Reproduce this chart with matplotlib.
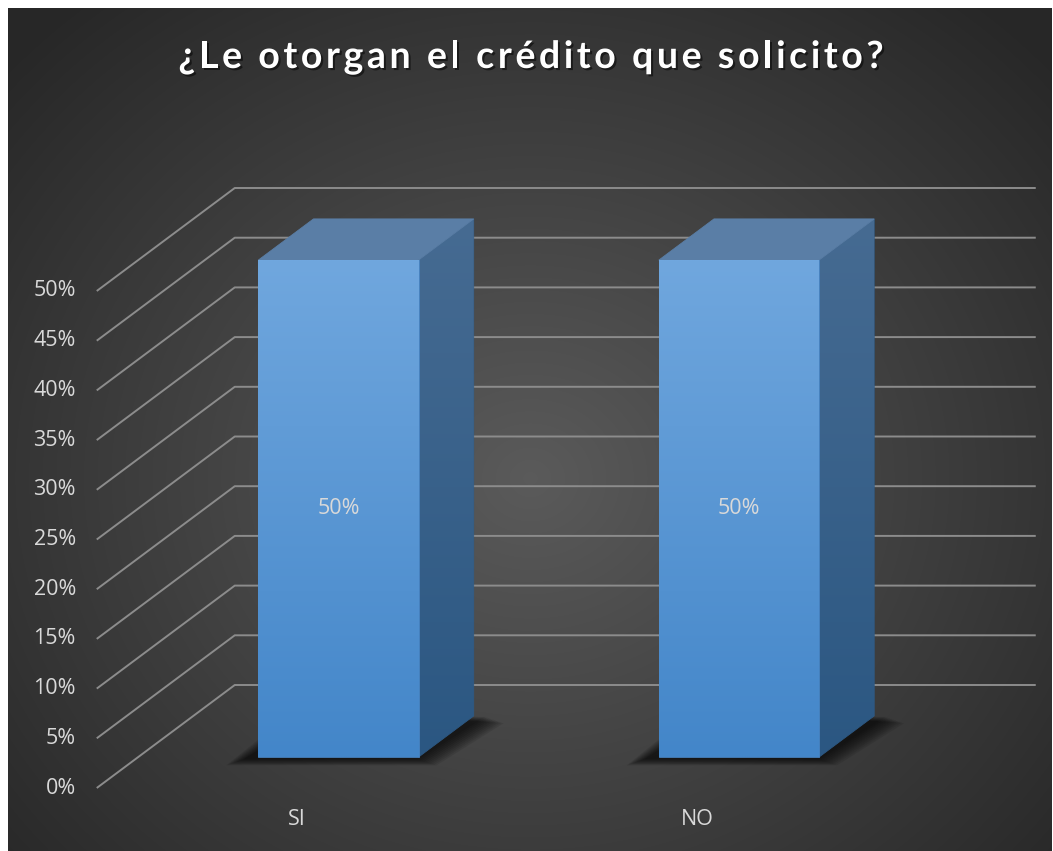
import numpy as np
import matplotlib
matplotlib.use("Agg")
from matplotlib import pyplot as plt
from matplotlib.patches import Polygon
import matplotlib.patheffects as pe

categories = ["SI", "NO"]
values = [50, 50]                      # percent
y_ticks = [0, 5, 10, 15, 20, 25, 30, 35, 40, 45, 50]
tick_labels = [f"{t}%" for t in y_ticks]
title = "¿Le otorgan el crédito que solicito?"

W, H = 1053, 851
PX_X = 400.5      # pixels per category
PX_Y = 9.94       # pixels per percent
X0, Y0 = 297, 788  # pixel of category 0 / 0% on the front plane
DX = 138 / PX_X   # depth offset (full depth) in category units
DY = 103 / PX_Y   # depth offset in percent units
FONT = ["Open Sans", "DejaVu Sans"]
TFONT = ["Lato", "DejaVu Sans"]
TXT = "#d9d9d9"


def proj(x, y, d):
    return (x + d * DX, y + d * DY)


def hexrgb(h):
    h = h.lstrip("#")
    return [int(h[i:i + 2], 16) / 255 for i in (0, 2, 4)]


fig = plt.figure(figsize=(W / 100, H / 100), dpi=100)
fig.patch.set_facecolor("white")

# background: radial gradient
bg = fig.add_axes([8 / W, 0, 1 - 9 / W, 1 - 8 / H])
bg.set_axis_off()
yy, xx = np.mgrid[0:843, 0:1044]
r = np.hypot((xx - 522) / 700, (yy - 470) / 620)
r = np.clip(r, 0, 1)
c = 0.355 - 0.20 * r
bg.imshow(np.dstack([c, c, c]), aspect="auto", interpolation="bilinear")

ax = fig.add_axes([0, 0, 1, 1])
ax.patch.set_alpha(0)
ax.set_axis_off()
ax.set_xlim(-X0 / PX_X, (W - X0) / PX_X)
ax.set_ylim((Y0 - H) / PX_Y, Y0 / PX_Y)

n = len(categories)
x_left, x_right = -0.5, n - 0.5

# gridlines on side wall and back wall
for t, lab in zip(y_ticks, tick_labels):
    p0 = proj(x_left, t, 0)
    p1 = proj(x_left, t, 1)
    p2 = proj(x_right, t, 1)
    ax.plot([p0[0], p1[0], p2[0]], [p0[1], p1[1], p2[1]], color="#8c8c8c",
            lw=1.4, zorder=1, solid_capstyle="butt")
    ax.annotate(lab, xy=p0, xytext=(-15, 0), textcoords="offset points",
                ha="right", va="center", color=TXT, fontsize=15.5, family=FONT)

hw = 0.2
d0, d1 = 0.3, 0.7


def grad_fill(poly, top_col, bot_col, ymin, ymax, z):
    ax.add_patch(poly)
    g = np.linspace(0, 1, 256)[:, None, None]
    img = np.array(top_col)[None, None, :] * (1 - g) + np.array(bot_col)[None, None, :] * g
    xs = poly.get_xy()[:, 0]
    im = ax.imshow(img, extent=(xs.min(), xs.max(), ymin, ymax), aspect="auto",
                   origin="upper", zorder=z, interpolation="bilinear")
    im.set_clip_path(poly)


for i, (cat, v) in enumerate(zip(categories, values)):
    fl = proj(i - hw, 0, d0)
    fr = proj(i + hw, 0, d0)
    br = proj(i + hw, 0, d1)
    bl = proj(i - hw, 0, d1)
    # soft shadow around the footprint
    for k in range(10):
        e = 0.005 * k
        ey = 0.07 * k
        sh = Polygon([(fl[0] - 0.035 - e, fl[1] - 0.2 - ey), (fr[0] + e, fr[1] - 0.2 - ey),
                      (br[0] + 0.03 + e, br[1] - 0.1 - ey), (bl[0] - e, bl[1] + ey)],
                     closed=True, facecolor="black", edgecolor="none", alpha=0.09, zorder=2)
        ax.add_patch(sh)
    ftl = proj(i - hw, v, d0)
    ftr = proj(i + hw, v, d0)
    btr = proj(i + hw, v, d1)
    btl = proj(i - hw, v, d1)
    # side face
    side = Polygon([fr, br, btr, ftr], closed=True, facecolor="none",
                   edgecolor="#2f5b86", lw=0.6, zorder=3)
    grad_fill(side, hexrgb("#466b92"), hexrgb("#2b5782"), fr[1], btr[1], 3)
    # top face
    topf = Polygon([ftl, ftr, btr, btl], closed=True, facecolor="#5a7ea6",
                   edgecolor="#5a7ea6", lw=0.6, zorder=4)
    ax.add_patch(topf)
    # front face
    front = Polygon([fl, fr, ftr, ftl], closed=True, facecolor="none",
                    edgecolor="#4a88c8", lw=0.6, zorder=5)
    grad_fill(front, hexrgb("#70a7de"), hexrgb("#4386c9"), fl[1], ftl[1], 5)
    # data label
    cx, cy = proj(i, v / 2, d0)
    ax.text(cx, cy, f"{v}%", ha="center", va="center", color=TXT, fontsize=15.5,
            family=FONT, zorder=6)
    # category label
    ax.annotate(cat, xy=proj(i, 0, 0), xytext=(0, -23), textcoords="offset points",
                ha="center", va="center", color=TXT, fontsize=15.5, family=FONT)

# title with letter spacing, drawn char by char
renderer = fig.canvas.get_renderer()
tkw = dict(color="white", fontsize=27, fontweight="bold", family=TFONT, va="center",
           path_effects=[pe.withSimplePatchShadow(offset=(1.5, -1.5),
                                                  shadow_rgbFace="black", alpha=0.5)])
spacing = 3.6  # px between letters


def prefix_width(s):
    if not s:
        return 0.0
    t = fig.text(0, 0, s.replace(" ", "\u00a0"), **tkw)
    w = t.get_window_extent(renderer).width
    t.remove()
    return w


total = prefix_width(title) + spacing * (len(title) - 1)
x_start = 531 - total / 2
ty = 1 - 57 / H
for k, ch in enumerate(title):
    if ch == " ":
        continue
    xk = x_start + prefix_width(title[:k]) + spacing * k
    fig.text(xk / W, ty, ch, ha="left", **tkw)

fig.savefig("out.png", dpi=100)
